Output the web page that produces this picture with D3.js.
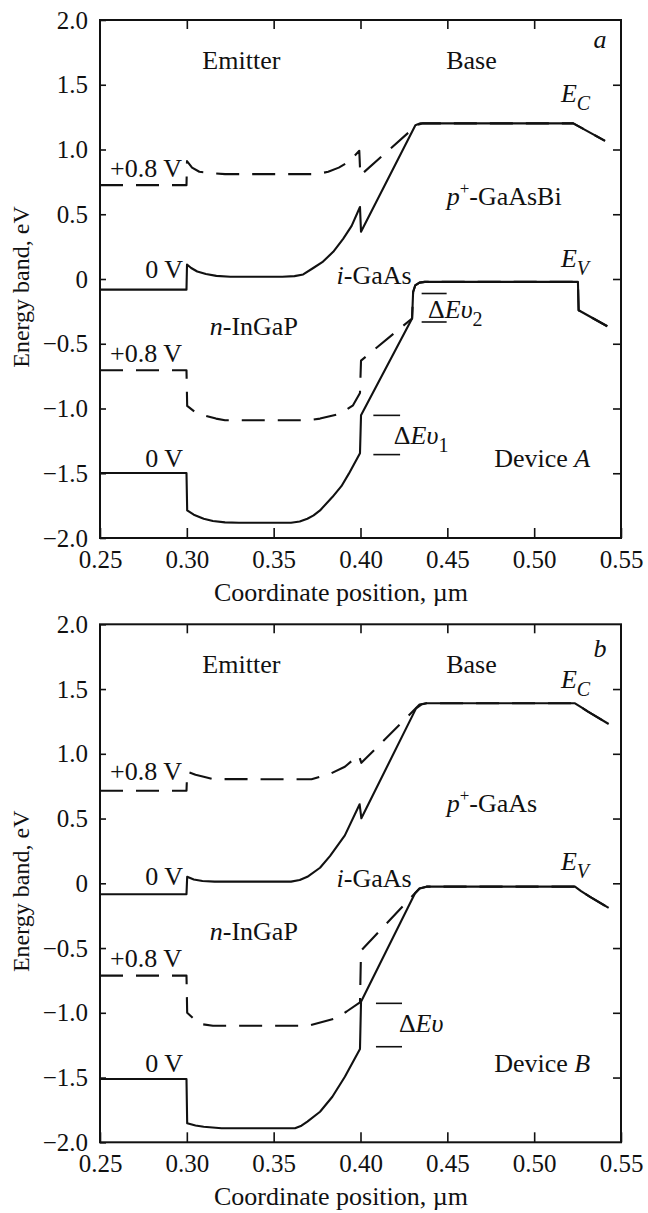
<!DOCTYPE html>
<html>
<head>
<meta charset="utf-8">
<script src="https://cdn.jsdelivr.net/npm/d3@7"></script>
<style>
  body { margin: 0; background: #fff; }
</style>
</head>
<body>
<svg width="648" height="1213"></svg>
<script>
// axis ticks
var xTicks = [0.25, 0.30, 0.35, 0.40, 0.45, 0.50, 0.55];
var yTicks = [2.0, 1.5, 1.0, 0.5, 0, -0.5, -1.0, -1.5, -2.0];

// device A (GaAsBi base): [position um, energy eV]
var ecA0 = [[0.25,-0.082],[0.2998,-0.082],[0.3001,0.112],[0.3025,0.085],[0.306,0.058],[0.311,0.038],
  [0.317,0.024],[0.325,0.017],[0.355,0.017],[0.362,0.022],[0.367,0.035],[0.3728,0.085],[0.378,0.13],
  [0.3843,0.21],[0.39,0.31],[0.3949,0.41],[0.3997,0.556],[0.4003,0.365],[0.4316,1.188],[0.4345,1.202],
  [0.5225,1.202],[0.5408,1.067]];
var ecA8 = [[0.25,0.725],[0.2998,0.725],[0.3001,0.91],[0.303,0.86],[0.3072,0.828],[0.3168,0.815],
  [0.322,0.81],[0.375,0.81],[0.3814,0.828],[0.3875,0.86],[0.3933,0.905],[0.3993,0.99],[0.3999,0.80],
  [0.4326,1.19],[0.436,1.202],[0.5225,1.202],[0.5408,1.067]];
var evA0 = [[0.25,-1.498],[0.2998,-1.498],[0.3002,-1.787],[0.304,-1.82],[0.3097,-1.851],[0.315,-1.869],
  [0.322,-1.879],[0.33,-1.882],[0.36,-1.882],[0.365,-1.872],[0.3694,-1.851],[0.373,-1.825],[0.3767,-1.787],
  [0.3838,-1.684],[0.389,-1.6],[0.3933,-1.503],[0.3997,-1.345],[0.4003,-1.053],[0.4297,-0.305],
  [0.4303,-0.10],[0.4315,-0.05],[0.434,-0.028],[0.437,-0.022],[0.5252,-0.022],[0.5256,-0.241],[0.5421,-0.365]];
var evA8 = [[0.25,-0.705],[0.2998,-0.705],[0.3002,-0.98],[0.305,-1.03],[0.3097,-1.053],[0.3168,-1.078],
  [0.322,-1.091],[0.37,-1.091],[0.3767,-1.078],[0.3886,-1.04],[0.3957,-0.975],[0.3997,-0.88],[0.4003,-0.63],
  [0.4297,-0.305],[0.4303,-0.10],[0.4315,-0.05],[0.434,-0.028],[0.437,-0.022],[0.5252,-0.022],
  [0.5256,-0.241],[0.5421,-0.365]];

// device B (GaAs base)
var ecB0 = [[0.25,-0.085],[0.2998,-0.085],[0.3002,0.05],[0.304,0.03],[0.309,0.018],[0.316,0.013],
  [0.36,0.013],[0.365,0.025],[0.3694,0.05],[0.3767,0.12],[0.3824,0.21],[0.391,0.37],[0.3995,0.61],
  [0.4005,0.502],[0.432,1.351],[0.435,1.38],[0.438,1.39],[0.5235,1.39],[0.527,1.36],[0.531,1.325],[0.5429,1.23]];
var ecB8 = [[0.25,0.715],[0.2998,0.715],[0.3002,0.862],[0.305,0.838],[0.3097,0.823],[0.315,0.805],
  [0.3718,0.803],[0.3824,0.845],[0.391,0.90],[0.399,0.99],[0.4005,0.93],[0.434,1.38],[0.438,1.39],
  [0.5235,1.39],[0.527,1.36],[0.531,1.325],[0.5429,1.23]];
var evB0 = [[0.25,-1.511],[0.2998,-1.511],[0.3002,-1.853],[0.305,-1.87],[0.3097,-1.88],[0.32,-1.892],
  [0.3623,-1.892],[0.366,-1.872],[0.3694,-1.84],[0.3767,-1.764],[0.3838,-1.648],[0.391,-1.494],
  [0.3997,-1.28],[0.4003,-0.914],[0.4314,-0.077],[0.434,-0.04],[0.438,-0.026],[0.5235,-0.026],
  [0.527,-0.06],[0.5322,-0.105],[0.5429,-0.19]];
var evB8 = [[0.25,-0.713],[0.2998,-0.713],[0.3002,-1.0],[0.3072,-1.085],[0.315,-1.1],[0.37,-1.1],
  [0.3862,-1.04],[0.392,-0.99],[0.3997,-0.92],[0.4003,-0.52],[0.434,-0.04],[0.438,-0.026],[0.5235,-0.026],
  [0.527,-0.06],[0.5322,-0.105],[0.5429,-0.19]];

var serif = "'Liberation Serif', serif";
var svg = d3.select("svg");
var left = 100, right = 621, plotH = 518;

var x = d3.scaleLinear().domain([0.25, 0.55]).range([left, right]);

function label(g, y, px, py, parts, anchor){
  var t = g.append("text")
           .attr("x", x(px))
           .attr("y", y(py))
           .style("font-family", serif)
           .style("font-size", "26px")
           .attr("fill", "#111")
           .attr("text-anchor", anchor || "start");
  var shift = 0;
  parts.forEach(function(p){
    var s = t.append("tspan").text(p.t);
    var want = p.sub ? 8 : (p.sup ? -11 : 0);
    if (want !== shift){ s.attr("dy", want - shift); shift = want; }
    if (p.sub || p.sup) s.style("font-size", p.sup ? "17px" : "20px");
    if (p.i) s.style("font-style", "italic");
  });
}

function panel(top, curves, labels, marks){
  var y = d3.scaleLinear().domain([-2, 2]).range([top + plotH, top]);
  var g = svg.append("g");

  var line = d3.line()
               .x(function(d){ return x(d[0]); })
               .y(function(d){ return y(d[1]); });

  curves.forEach(function(c){
    g.append("path")
     .datum(c.data)
     .attr("d", line)
     .attr("fill", "none")
     .attr("stroke", "#111")
     .attr("stroke-width", 2.1)
     .attr("stroke-linejoin", "round")
     .attr("stroke-dasharray", c.dash ? "23,13" : null);
  });

  marks.forEach(function(m){
    g.append("line")
     .attr("x1", x(m[0])).attr("x2", x(m[1]))
     .attr("y1", y(m[2])).attr("y2", y(m[2]))
     .attr("stroke", "#111").attr("stroke-width", 1.6);
  });

  // axes, ticks pointing inward
  g.append("g")
   .attr("transform", "translate(0," + (top + plotH) + ")")
   .call(d3.axisBottom(x).tickValues(xTicks).tickSizeInner(-10).tickSizeOuter(0)
           .tickPadding(12).tickFormat(d3.format(".2f")));
  g.append("g")
   .attr("transform", "translate(" + left + ",0)")
   .call(d3.axisLeft(y).tickValues(yTicks).tickSizeInner(-6).tickSizeOuter(0)
           .tickPadding(12)
           .tickFormat(function(d){ return d === 0 ? "0" : d3.format(".1f")(d); }));
  g.append("g")
   .attr("transform", "translate(0," + top + ")")
   .call(d3.axisTop(x).tickValues(xTicks.slice(1, -1)).tickSizeInner(-9).tickSizeOuter(0).tickFormat(""));
  g.append("g")
   .attr("transform", "translate(" + right + ",0)")
   .call(d3.axisRight(y).tickValues(yTicks.slice(1, -1)).tickSizeInner(-8).tickSizeOuter(0).tickFormat(""));

  g.selectAll(".domain").remove();
  g.selectAll(".tick line").attr("stroke", "#111").attr("stroke-width", 1.6);
  g.selectAll(".tick text")
   .style("font-family", serif)
   .style("font-size", "25px")
   .attr("fill", "#111");

  g.append("rect")
   .attr("x", left).attr("y", top)
   .attr("width", right - left).attr("height", plotH)
   .attr("fill", "none").attr("stroke", "#111").attr("stroke-width", 2);

  g.append("text")
   .attr("x", 341).attr("y", top + plotH + 63)
   .attr("text-anchor", "middle")
   .style("font-family", serif).style("font-size", "26px")
   .attr("fill", "#111")
   .text("Coordinate position, \u00b5m");

  g.append("text")
   .attr("transform", "translate(29," + (top + plotH / 2 + 8) + ") rotate(-90)")
   .attr("text-anchor", "middle")
   .style("font-family", serif).style("font-size", "24px")
   .attr("fill", "#111")
   .text("Energy band, eV");

  labels.forEach(function(l){ label(g, y, l.x, l.y, l.p, l.a); });
}

var curvesA = [{data: ecA0}, {data: ecA8, dash: true}, {data: evA0}, {data: evA8, dash: true}];
var curvesB = [{data: ecB0}, {data: ecB8, dash: true}, {data: evB0}, {data: evB8, dash: true}];

var labelsA = [
  {x: 0.3314, y: 1.619, a: "middle", p: [{t: "Emitter"}]},
  {x: 0.4639, y: 1.619, a: "middle", p: [{t: "Base"}]},
  {x: 0.5417, y: 1.784, a: "end", p: [{t: "a", i: true}]},
  {x: 0.5154, y: 1.369, p: [{t: "E", i: true}, {t: "C", i: true, sub: true}]},
  {x: 0.2558, y: 0.789, p: [{t: "+0.8 V"}]},
  {x: 0.4496, y: 0.570, p: [{t: "p", i: true}, {t: "+", sup: true}, {t: "-GaAsBi"}]},
  {x: 0.2761, y: 0.004, p: [{t: "0 V"}]},
  {x: 0.5154, y: 0.094, p: [{t: "E", i: true}, {t: "V", i: true, sub: true}]},
  {x: 0.3862, y: -0.035, p: [{t: "i", i: true}, {t: "-GaAs"}]},
  {x: 0.3132, y: -0.434, p: [{t: "n", i: true}, {t: "-InGaP"}]},
  {x: 0.4389, y: -0.303, p: [{t: "\u0394"}, {t: "E\u03c5", i: true}, {t: "2", sub: true}]},
  {x: 0.2558, y: -0.641, p: [{t: "+0.8 V"}]},
  {x: 0.4192, y: -1.271, p: [{t: "\u0394"}, {t: "E\u03c5", i: true}, {t: "1", sub: true}]},
  {x: 0.2761, y: -1.452, p: [{t: "0 V"}]},
  {x: 0.4770, y: -1.452, p: [{t: "Device "}, {t: "A", i: true}]}
];
var labelsB = [
  {x: 0.3314, y: 1.622, a: "middle", p: [{t: "Emitter"}]},
  {x: 0.4639, y: 1.622, a: "middle", p: [{t: "Base"}]},
  {x: 0.5417, y: 1.75, a: "end", p: [{t: "b", i: true}]},
  {x: 0.5154, y: 1.506, p: [{t: "E", i: true}, {t: "C", i: true, sub: true}]},
  {x: 0.2558, y: 0.798, p: [{t: "+0.8 V"}]},
  {x: 0.4496, y: 0.553, p: [{t: "p", i: true}, {t: "+", sup: true}, {t: "-GaAs"}]},
  {x: 0.2761, y: -0.013, p: [{t: "0 V"}]},
  {x: 0.5154, y: 0.103, p: [{t: "E", i: true}, {t: "V", i: true, sub: true}]},
  {x: 0.3862, y: -0.026, p: [{t: "i", i: true}, {t: "-GaAs"}]},
  {x: 0.3132, y: -0.438, p: [{t: "n", i: true}, {t: "-InGaP"}]},
  {x: 0.2558, y: -0.644, p: [{t: "+0.8 V"}]},
  {x: 0.4221, y: -1.146, p: [{t: "\u0394"}, {t: "E\u03c5", i: true}]},
  {x: 0.2761, y: -1.455, p: [{t: "0 V"}]},
  {x: 0.4770, y: -1.455, p: [{t: "Device "}, {t: "B", i: true}]}
];

// band offset markers: [x1, x2, energy]
var marksA = [[0.4352, 0.4496, -0.112], [0.4352, 0.4496, -0.332], [0.4074, 0.4228, -1.053], [0.4074, 0.4228, -1.356]];
var marksB = [[0.4089, 0.4239, -0.927], [0.4089, 0.4239, -1.262]];

panel(20, curvesA, labelsA, marksA);
panel(624.3, curvesB, labelsB, marksB);
</script>
</body>
</html>
